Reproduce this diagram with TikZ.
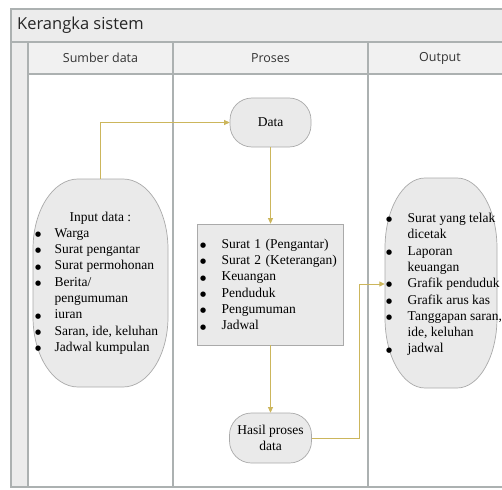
\documentclass[tikz,border=0pt]{standalone}
\usepackage{fontspec}
\setmainfont{Liberation Serif}
\newfontfamily\uifont{Open Sans}
\newfontfamily\symfont{DejaVu Sans}
\usetikzlibrary{arrows.meta}
\definecolor{frameline}{RGB}{172,177,177}
\definecolor{bandfill}{RGB}{236,236,236}
\definecolor{headfill}{RGB}{241,241,241}
\definecolor{shapefill}{RGB}{234,234,234}
\definecolor{shapeline}{RGB}{170,170,170}
\definecolor{connc}{RGB}{204,182,92}
\newcommand\mybul[1]{\makebox[#1][l]{\raisebox{0.8pt}{\symfont\fontsize{7}{8}\selectfont ●}}}
\begin{document}
\begin{tikzpicture}[x=1pt,y=-1pt,
  lane/.style={draw=frameline, line width=1.4pt},
  flowshape/.style={draw=shapeline, fill=shapefill, line width=0.7pt},
  term/.style={flowshape, rectangle, rounded corners=22pt, inner sep=2pt, align=center, font=\fontsize{13.5}{16.5}\selectfont},
  conn/.style={draw=connc, line width=0.9pt, -{Triangle[length=5.5pt,width=5pt]}},
  txt/.style={font=\fontsize{13.5}{16.3}\selectfont, inner sep=0pt, align=left},
  hdr/.style={font=\uifont\fontsize{12.5}{15}\selectfont, text=black!80, inner sep=0pt},
  area/.style={inner sep=0pt, rectangle}]
\useasboundingbox (0,0) rectangle (502,489);
\fill[white] (0,0) rectangle (502,489);
% swimlane frame
\fill[bandfill] (11,9) rectangle (515,42);
\fill[headfill] (28,42) rectangle (515,74);
\fill[bandfill] (11,42) rectangle (28,487);
\draw[lane] (11,9) rectangle (515,487);
\draw[lane] (11,42) -- (515,42);
\draw[lane] (28,74) -- (515,74);
\draw[lane] (28,42) -- (28,487);
\draw[lane] (173,42) -- (173,487);
\draw[lane] (368,42) -- (368,487);
\node[font=\uifont\fontsize{16.5}{19}\selectfont, text=black!85, anchor=west, inner sep=0pt] (title) at (17,25.5) {Kerangka sistem};
\node[hdr] (h1) at (100.5,58) {Sumber data};
\node[hdr] (h2) at (270.5,58) {Proses};
\node[hdr] (h3) at (440,58) {Output};
% input shape
\draw[flowshape] (78,179) -- (123,179) arc[start angle=270,end angle=360,x radius=45,y radius=70]
  -- (168,317) arc[start angle=0,end angle=90,x radius=45,y radius=70]
  -- (78,387) arc[start angle=90,end angle=180,x radius=45,y radius=70]
  -- (33,249) arc[start angle=180,end angle=270,x radius=45,y radius=70] -- cycle;
\node[area, minimum width=135pt, minimum height=208pt] (inpbox) at (100.5,283) {};
\node[txt, anchor=west] (inptxt) at (35,283) {\hspace*{34.5pt}Input data :\\
\mybul{19.5pt}Warga\\
\mybul{19.5pt}Surat pengantar\\
\mybul{19.5pt}Surat permohonan\\
\mybul{19.5pt}Berita/\\
\hspace*{19.5pt}pengumuman\\
\mybul{19.5pt}iuran\\
\mybul{19.5pt}Saran, ide, keluhan\\
\mybul{19.5pt}Jadwal kumpulan};
% output shape
\draw[flowshape] (425,178) -- (457,178) arc[start angle=270,end angle=360,x radius=40,y radius=70]
  -- (497,318) arc[start angle=0,end angle=90,x radius=40,y radius=70]
  -- (425,388) arc[start angle=90,end angle=180,x radius=40,y radius=70]
  -- (385,248) arc[start angle=180,end angle=270,x radius=40,y radius=70] -- cycle;
\node[area, minimum width=112pt, minimum height=210pt] (outbox) at (441,284) {};
\node[txt, anchor=west] (outtxt) at (386,284.5) {\mybul{21.5pt}Surat yang telak\\
\hspace*{21.5pt}dicetak\\
\mybul{21.5pt}Laporan\\
\hspace*{21.5pt}keuangan\\
\mybul{21.5pt}Grafik penduduk\\
\mybul{21.5pt}Grafik arus kas\\
\mybul{21.5pt}Tanggapan saran,\\
\hspace*{21.5pt}ide, keluhan\\
\mybul{21.5pt}jadwal};
% process column
\node[term, minimum width=81pt, minimum height=49pt] (data) at (270.5,122.5) {Data};
\node[flowshape, rectangle, minimum width=146pt, minimum height=121pt, text width=141pt, inner xsep=2.5pt, align=left, font=\fontsize{13.5}{16.3}\selectfont] (proc) at (270.5,284.5) {\mybul{21.5pt}Surat 1 (Pengantar)\\
\mybul{21.5pt}Surat 2 (Keterangan)\\
\mybul{21.5pt}Keuangan\\
\mybul{21.5pt}Penduduk\\
\mybul{21.5pt}Pengumuman\\
\mybul{21.5pt}Jadwal};
\node[term, minimum width=82pt, minimum height=50pt] (hasil) at (270.5,438) {Hasil proses\\data};
% connectors
\coordinate (bend) at (359,284);
\draw[conn] (inpbox.north) |- (data.west);
\draw[conn] (data.south) -- (proc.north);
\draw[conn] (proc.south) -- (hasil.north);
\draw[conn] (hasil.east) -| (bend) -- (outbox.west);
\end{tikzpicture}
\end{document}
